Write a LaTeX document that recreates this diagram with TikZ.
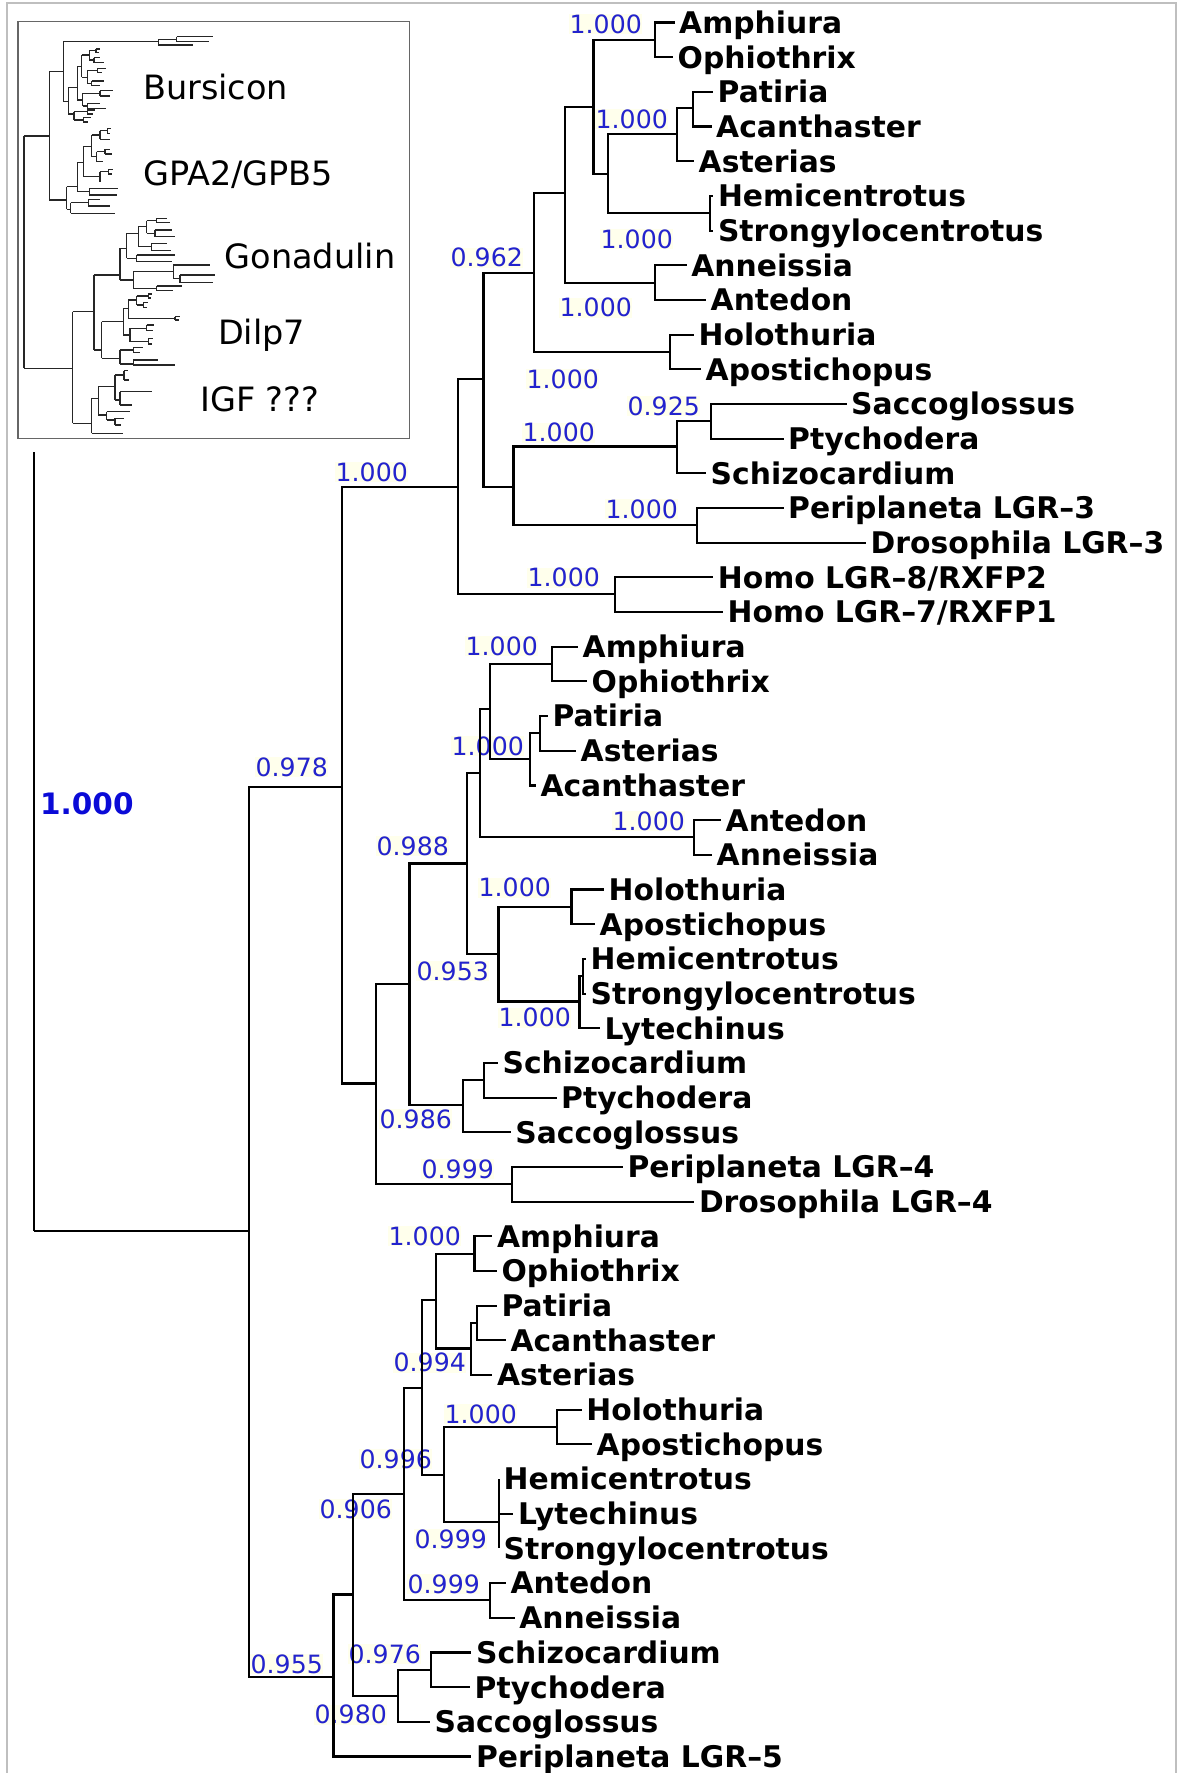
\documentclass[tikz,border=0pt]{standalone}
\usepackage{fontspec}
\newfontfamily\dvs{DejaVu Sans}
\definecolor{supblue}{RGB}{35,35,205}
\definecolor{bigblue}{RGB}{10,10,215}
\definecolor{supbg}{RGB}{255,255,236}
\newcommand\ib[4]{\draw[insbr] (#1,#2) -- (#1,#3);
  \foreach \yy/\xx in {#4} {\draw[insbr] (#1,\yy) -- (\xx,\yy);}}
\begin{document}
\begin{tikzpicture}[x=1pt,y=-1pt,
  br/.style={line width=2.1pt, black},
  insbr/.style={line width=1.5pt, black!85},
  leaf/.style={anchor=west, inner xsep=4.5pt, inner ysep=0pt, text height=21.7pt, text depth=0pt,
    font=\dvs\bfseries\fontsize{29.8}{30}\selectfont},
  sup/.style={anchor=base west, inner sep=0.5pt, text=supblue, fill=supbg,
    font=\dvs\fontsize{25.2}{26}\selectfont},
  big/.style={anchor=base west, inner sep=0pt, text=bigblue,
    font=\dvs\bfseries\fontsize{29.5}{30}\selectfont},
  ins/.style={anchor=base west, inner sep=0pt, font=\dvs\fontsize{33.5}{34}\selectfont}]
\useasboundingbox (0,0) rectangle (1180,1773);
\fill[white] (0,0) rectangle (1180,1773);
% outer frame
\draw[black!25, line width=1.5pt] (7,1773) -- (7,3) -- (1176,3) -- (1176,1773);

% ---------- support values ----------
\node[sup] (s1) at (569,33) {1.000};
\node[sup] (s2) at (595,128) {1.000};
\node[sup] (s3) at (600,248) {1.000};
\node[sup] (s4) at (450,266.7) {0.962};
\node[sup] (s5) at (559,316.7) {1.000};
\node[sup] (s6) at (526,388.3) {1.000};
\node[sup] (s7) at (627,415) {0.925};
\node[sup] (s8) at (522,441.7) {1.000};
\node[sup] (s9) at (605,518) {1.000};
\node[sup] (s10) at (527,586.7) {1.000};
\node[sup] (s11) at (335,481) {1.000};
\node[sup] (s12) at (255,776) {0.978};
\node[sup] (s13) at (465,655) {1.000};
\node[sup] (s14) at (451,755) {1.000};
\node[sup] (s15) at (612,830) {1.000};
\node[sup] (s16) at (376,855) {0.988};
\node[sup] (s17) at (478,896.7) {1.000};
\node[sup] (s18) at (416,980) {0.953};
\node[sup] (s19) at (498,1026.7) {1.000};
\node[sup] (s20) at (379,1128.3) {0.986};
\node[sup] (s21) at (421,1178.3) {0.999};
\node[sup] (s22) at (388,1245) {1.000};
\node[sup] (s23) at (393,1371.7) {0.994};
\node[sup] (s24) at (444,1423.3) {1.000};
\node[sup] (s25) at (359,1468.3) {0.996};
\node[sup] (s26) at (319,1518.3) {0.906};
\node[sup] (s27) at (414,1548.3) {0.999};
\node[sup] (s28) at (407,1593.3) {0.999};
\node[sup] (s29) at (348,1663.3) {0.976};
\node[sup] (s30) at (250,1673) {0.955};
\node[sup] (s31) at (314,1723.7) {0.980};
\node[big] (s0) at (40,814) {1.000};

% ---------- internal nodes ----------
\coordinate (root) at (34.3,1230.6);
\coordinate (outstem) at (34.3,452);
\coordinate (R2) at (249.3,1230.6);
\coordinate (A) at (342.3,786.7);
\coordinate (K) at (333.5,1677);
\coordinate (T) at (457.8,486.8);
\coordinate (B) at (376.2,1083.5);
\coordinate (U) at (483.5,379);
\coordinate (Homo) at (614.8,594.3);
\coordinate (V) at (534,273.3);
\coordinate (Z) at (513.5,486.7);
\coordinate (W) at (565.4,192.7);
\coordinate (Holo1) at (669.6,352);
\coordinate (X) at (593.5,106.7);
\coordinate (Crin1) at (655,282.6);
\coordinate (AO1) at (655,39.9);
\coordinate (Y) at (608,174.3);
\coordinate (Ast1) at (677,134.3);
\coordinate (Ech1) at (710,213.2);
\coordinate (PA1) at (693,108.3);
\coordinate (H1) at (677,446.5);
\coordinate (SP1) at (710.8,421.4);
\coordinate (Ins3) at (697.2,525.3);
\coordinate (C) at (409.5,984);
\coordinate (Ins4) at (511.6,1184.3);
\coordinate (D) at (466.8,863.5);
\coordinate (Hem2) at (463.2,1105);
\coordinate (F) at (480,773.3);
\coordinate (E) at (498.5,953.8);
\coordinate (G) at (490.3,709.3);
\coordinate (Crin2) at (694.3,837.4);
\coordinate (AO2) at (552.3,664);
\coordinate (Ast2) at (530,759.4);
\coordinate (PAs) at (540.2,733.4);
\coordinate (Holo2) at (571.5,906.8);
\coordinate (Ech2) at (579.5,1001.5);
\coordinate (HS2) at (583,976.2);
\coordinate (SP2) at (484,1080.2);
\coordinate (L) at (353,1594.5);
\coordinate (M) at (404,1494);
\coordinate (Hem3) at (397.8,1696);
\coordinate (N) at (422.3,1387.7);
\coordinate (Crin3) at (490.2,1600.4);
\coordinate (O) at (435.7,1300.4);
\coordinate (P) at (443.7,1475);
\coordinate (AO3) at (474.5,1253.6);
\coordinate (Ast3) at (471,1348.5);
\coordinate (PA3) at (476.8,1323);
\coordinate (Holo3) at (557,1427);
\coordinate (Ech3) at (499,1522);
\coordinate (SP3) at (431.2,1669.8);

% ---------- leaves ----------
\node[leaf] (l0) at (674.5,22.5) {Amphiura};
\node[leaf] (l1) at (673,57.18) {Ophiothrix};
\node[leaf] (l2) at (713,91.86) {Patiria};
\node[leaf] (l3) at (711.5,126.54) {Acanthaster};
\node[leaf] (l4) at (694,161.22) {Asterias};
\node[leaf] (l5) at (713.3,195.9) {Hemicentrotus};
\node[leaf] (l6) at (713.3,230.58) {Strongylocentrotus};
\node[leaf] (l7) at (686.6,265.26) {Anneissia};
\node[leaf] (l8) at (706,299.94) {Antedon};
\node[leaf] (l9) at (693.9,334.62) {Holothuria};
\node[leaf] (l10) at (701,369.3) {Apostichopus};
\node[leaf] (l11) at (846.5,403.98) {Saccoglossus};
\node[leaf] (l12) at (783.5,438.66) {Ptychodera};
\node[leaf] (l13) at (706,473.34) {Schizocardium};
\node[leaf] (l14) at (783.5,508.02) {Periplaneta LGR–3};
\node[leaf] (l15) at (866,542.7) {Drosophila LGR–3};
\node[leaf] (l16) at (713.2,577.38) {Homo LGR–8/RXFP2};
\node[leaf] (l17) at (722.9,612.06) {Homo LGR–7/RXFP1};
\node[leaf] (l18) at (578,646.74) {Amphiura};
\node[leaf] (l19) at (587,681.42) {Ophiothrix};
\node[leaf] (l20) at (547.8,716.1) {Patiria};
\node[leaf] (l21) at (576,750.78) {Asterias};
\node[leaf] (l22) at (535.8,785.46) {Acanthaster};
\node[leaf] (l23) at (721,820.14) {Antedon};
\node[leaf] (l24) at (712,854.82) {Anneissia};
\node[leaf] (l25) at (604,889.5) {Holothuria};
\node[leaf] (l26) at (595,924.18) {Apostichopus};
\node[leaf] (l27) at (586,958.86) {Hemicentrotus};
\node[leaf] (l28) at (586,993.54) {Strongylocentrotus};
\node[leaf] (l29) at (600,1028.22) {Lytechinus};
\node[leaf] (l30) at (497.9,1062.9) {Schizocardium};
\node[leaf] (l31) at (556.5,1097.58) {Ptychodera};
\node[leaf] (l32) at (510.6,1132.26) {Saccoglossus};
\node[leaf] (l33) at (622.9,1166.94) {Periplaneta LGR–4};
\node[leaf] (l34) at (694.3,1201.62) {Drosophila LGR–4};
\node[leaf] (l35) at (492.4,1236.3) {Amphiura};
\node[leaf] (l36) at (496.9,1270.98) {Ophiothrix};
\node[leaf] (l37) at (496.9,1305.66) {Patiria};
\node[leaf] (l38) at (505.8,1340.34) {Acanthaster};
\node[leaf] (l39) at (492.4,1375.02) {Asterias};
\node[leaf] (l40) at (581.7,1409.7) {Holothuria};
\node[leaf] (l41) at (592,1444.38) {Apostichopus};
\node[leaf] (l42) at (499,1479.06) {Hemicentrotus};
\node[leaf] (l43) at (513.3,1513.74) {Lytechinus};
\node[leaf] (l44) at (499,1548.42) {Strongylocentrotus};
\node[leaf] (l45) at (505.8,1583.1) {Antedon};
\node[leaf] (l46) at (514.7,1617.78) {Anneissia};
\node[leaf] (l47) at (471.4,1652.46) {Schizocardium};
\node[leaf] (l48) at (470,1687.14) {Ptychodera};
\node[leaf] (l49) at (429.9,1721.82) {Saccoglossus};
\node[leaf] (l50) at (471.4,1756.5) {Periplaneta LGR–5};

% ---------- branches ----------
\draw[br] (root) -- (outstem);
\foreach \p/\c in {root/R2, R2/A, R2/K, A/T, A/B, T/U, T/Homo, U/V, U/Z, V/W, V/Holo1,
  W/X, W/Crin1, X/AO1, X/Y, AO1/l0.west, AO1/l1.west, Y/Ast1, Y/Ech1, Ast1/PA1, Ast1/l4.west,
  PA1/l2.west, PA1/l3.west, Ech1/l5.west, Ech1/l6.west, Crin1/l7.west, Crin1/l8.west,
  Holo1/l9.west, Holo1/l10.west, Z/H1, Z/Ins3, H1/SP1, H1/l13.west, SP1/l11.west, SP1/l12.west,
  Ins3/l14.west, Ins3/l15.west, Homo/l16.west, Homo/l17.west,
  B/C, B/Ins4, C/D, C/Hem2, D/F, D/E, F/G, F/Crin2, G/AO2, G/Ast2, AO2/l18.west, AO2/l19.west,
  Ast2/PAs, Ast2/l22.west, PAs/l20.west, PAs/l21.west, Crin2/l23.west, Crin2/l24.west,
  E/Holo2, E/Ech2, Holo2/l25.west, Holo2/l26.west, Ech2/HS2, Ech2/l29.west, HS2/l27.west, HS2/l28.west,
  Hem2/SP2, Hem2/l32.west, SP2/l30.west, SP2/l31.west, Ins4/l33.west, Ins4/l34.west,
  K/L, K/l50.west, L/M, L/Hem3, M/N, M/Crin3, N/O, N/P, O/AO3, O/Ast3, AO3/l35.west, AO3/l36.west,
  Ast3/PA3, Ast3/l39.west, PA3/l37.west, PA3/l38.west, P/Holo3, P/Ech3, Holo3/l40.west, Holo3/l41.west,
  Ech3/l42.west, Ech3/l43.west, Ech3/l44.west, Crin3/l45.west, Crin3/l46.west,
  Hem3/SP3, Hem3/l49.west, SP3/l47.west, SP3/l48.west}
  {\draw[br] (\p) |- (\c);}

% ---------- inset ----------
\draw[black!60, line width=1.4pt] (18,21.7) rectangle (409.3,438.3);
\node[ins] (i1) at (143,99.3) {Bursicon};
\node[ins] (i2) at (143,185) {GPA2/GPB5};
\node[ins] (i3) at (224.5,268.3) {Gonadulin};
\node[ins] (i4) at (218,344) {Dilp7};
\node[ins] (i5) at (200,411.7) {IGF ???};
\begin{scope}[scale=1/3]
% backbone
\ib{72}{408}{1105}{408/148,1105/218}
\ib{148}{215}{600}{215/190,600/200}
\ib{190}{125}{305}{125/475,305/205}
\ib{218}{935}{1270}{935/282,1270/275}
\ib{282}{825}{1050}{825/360,1050/305}
% outgroup
\ib{475}{118}{135}{118/530,135/580}
\ib{530}{110}{125}{110/640,125/628}
% Bursicon
\ib{205}{262}{342}{262/232,342/222}
\ib{232}{200}{300}{200/245,300/248}
\ib{245}{165}{232}{165/268,232/262}
\ib{268}{152}{180}{152/288,180/282}
\ib{288}{147}{158}{147/300,158/298}
\ib{282}{173}{188}{173/300,188/312}
\ib{262}{212}{250}{212/292,250/275}
\ib{292}{205}{218}{205/318,218/306}
\ib{275}{243}{257}{243/312,257/300}
\ib{248}{280}{318}{280/300,318/262}
\ib{300}{272}{288}{272/340,288/330}
\ib{262}{310}{326}{310/300,326/318}
\ib{222}{335}{360}{335/262,360/250}
\ib{262}{330}{342}{330/285,342/278}
\ib{250}{352}{366}{352/272,366/265}
% GPA2/GPB5
\ib{200}{560}{628}{560/232,628/212}
\ib{232}{488}{575}{488/250,575/268}
\ib{250}{440}{530}{440/275,530/300}
\ib{275}{405}{470}{405/300,470/290}
\ib{300}{392}{418}{392/322,418/330}
\ib{322}{385}{400}{385/332,400/330}
\ib{290}{455}{485}{455/315,485/310}
\ib{315}{448}{462}{448/330,462/335}
\ib{300}{515}{545}{515/325,545/300}
\ib{325}{508}{522}{508/340,522/335}
\ib{268}{565}{585}{565/355,585/350}
\ib{212}{608}{640}{608/265,640/345}
\ib{265}{598}{618}{598/300,618/330}
% Gonadulin
\ib{360}{745}{840}{745/380,840/400}
\ib{380}{700}{775}{700/415,775/410}
\ib{415}{680}{740}{680/440,740/455}
\ib{440}{662}{700}{662/470,700/465}
\ib{470}{655}{668}{655/500,668/510}
\ib{465}{690}{710}{690/515,710/525}
\ib{455}{730}{752}{730/500,752/512}
\ib{410}{765}{785}{765/525,785/515}
\ib{400}{815}{865}{815/520,865/470}
\ib{520}{795}{835}{795/630,835/540}
\ib{540}{825}{848}{825/645,848/640}
\ib{470}{858}{872}{858/545,872/520}
% Dilp7
\ib{305}{965}{1075}{965/370,1075/360}
\ib{370}{925}{1005}{925/385,1005/390}
\ib{385}{900}{955}{900/410,955/525}
\ib{410}{888}{915}{888/445,915/430}
\ib{445}{882}{894}{882/455,894/452}
\ib{430}{908}{922}{908/445,922/440}
\ib{390}{985}{1025}{985/440,1025/445}
\ib{440}{975}{992}{975/462,992/458}
\ib{445}{1015}{1032}{1015/458,1032/455}
\ib{360}{1050}{1092}{1050/400,1092/400}
\ib{400}{1043}{1058}{1043/430,1058/420}
\ib{400}{1080}{1095}{1080/475,1095/525}
\ib{525}{950}{960}{950/540,960/538}
% IGF
\ib{275}{1195}{1300}{1195/295,1300/370}
\ib{295}{1160}{1245}{1160/345,1245/320}
\ib{345}{1125}{1200}{1125/372,1200/360}
\ib{372}{1112}{1140}{1112/385,1140/388}
\ib{360}{1175}{1215}{1175/455,1215/395}
\ib{320}{1235}{1260}{1235/390,1260/345}
\ib{345}{1255}{1275}{1255/372,1275/362}
\end{scope}
\end{tikzpicture}
\end{document}
